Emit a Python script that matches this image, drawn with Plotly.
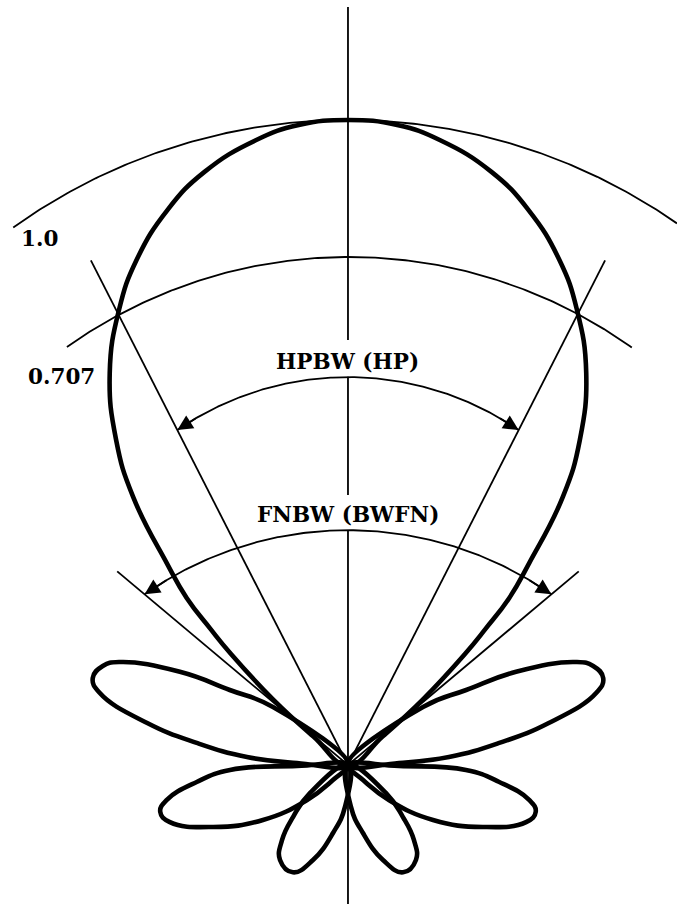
import numpy as np
import plotly.graph_objects as go

# ---- Radiation pattern (angle from boresight in degrees, normalized field magnitude) ----
# Main beam, one half: from the peak out to the first null
MAIN_DEG = [0.0, 4.4, 8.4, 13.6, 18.0, 22.7, 26.7, 31.3, 35.5, 38.7, 41.9, 44.0, 45.3, 46.5, 48.8, 50.5, 51.5]
MAIN_MAG = [1.0, 0.995, 0.979, 0.946, 0.905, 0.849, 0.790, 0.711, 0.619, 0.533, 0.421, 0.360, 0.300, 0.250, 0.154, 0.070, 0.0]

# First side lobe (outline from the origin, round the tip, back to the origin)
SIDE1_DEG = [52.3, 52.3, 57.6, 61.0, 65.7, 68.0, 71.2, 73.8, 78.2, 81.7, 85.5, 87.8, 89.5]
SIDE1_MAG = [0.0, 0.147, 0.217, 0.298, 0.388, 0.410, 0.418, 0.401, 0.318, 0.237, 0.157, 0.079, 0.0]

# Second side lobe
SIDE2_DEG = [90.5, 91.1, 92.4, 96.4, 100.9, 104.0, 107.8, 114.7, 122.9, 130.5, 135.0, 137.0]
SIDE2_MAG = [0.0, 0.079, 0.183, 0.236, 0.286, 0.300, 0.290, 0.230, 0.157, 0.084, 0.033, 0.0]

# Back lobe
BACK_DEG = [124.0, 126.4, 133.4, 138.7, 144.4, 152.8, 159.8, 167.6, 175.9, 178.0]
BACK_MAG = [0.0, 0.073, 0.117, 0.155, 0.181, 0.187, 0.157, 0.108, 0.065, 0.0]

# Reference levels and beamwidths
LEVEL_LABELS = ["1.0", "0.707"]
HPBW_HALF_DEG = 27.0
FNBW_HALF_DEG = 50.0
HPBW_LINE_LEN = 0.878
FNBW_LINE_LEN = 0.467
BEAM_LABELS = ["HPBW (HP)", "FNBW (BWFN)"]

INK = "#000000"
FONT = dict(family="DejaVu Serif", size=21.5, color=INK, weight="bold")


def to_xy(deg, mag):
    a = np.radians(np.asarray(deg, dtype=float))
    m = np.asarray(mag, dtype=float)
    return m * np.sin(a), m * np.cos(a)


def arc_points(cx, cy, r, phi0, phi1, n=200):
    p = np.radians(np.linspace(phi0, phi1, n))
    return cx + r * np.sin(p), cy + r * np.cos(p)


def line_arc_hit(half_deg, cy, r):
    """Distance along a beam line (from the origin) where it meets an arc centred on the axis."""
    c = np.cos(np.radians(half_deg))
    b = -2 * c * cy
    k = cy * cy - r * r
    return (-b + np.sqrt(b * b - 4 * k)) / 2


fig = go.Figure()

thin = dict(color=INK, width=1.8)
thick = dict(color=INK, width=4.6, shape="spline", smoothing=1.3)

# Axis of the pattern, broken where the beamwidth labels sit
HP_LABEL_Y = 0.626
FN_LABEL_Y = 0.3876
fig.add_trace(go.Scatter(
    x=[0, 0, None, 0, 0, None, 0, 0],
    y=[1.1752, HP_LABEL_Y + 0.033, None, HP_LABEL_Y - 0.024, FN_LABEL_Y + 0.031,
       None, FN_LABEL_Y - 0.024, -0.26],
    mode="lines", line=thin, hoverinfo="skip"))

# Level arcs
ax1, ay1 = arc_points(0.0, 0.1085, 0.8915, -35.6, 34.9)
fig.add_trace(go.Scatter(x=ax1, y=ay1, mode="lines", line=thin, hoverinfo="skip"))
ax2, ay2 = arc_points(0.0016, 0.0326, 0.755, -35.4, 35.5)
fig.add_trace(go.Scatter(x=ax2, y=ay2, mode="lines", line=thin, hoverinfo="skip"))

# Beam-edge lines
for half, length in [(HPBW_HALF_DEG, HPBW_LINE_LEN), (FNBW_HALF_DEG, FNBW_LINE_LEN)]:
    for s in (-1, 1):
        lx, ly = to_xy([0, s * half], [0, length])
        fig.add_trace(go.Scatter(x=[0, lx[1]], y=[0, ly[1]], mode="lines",
                                 line=thin, hoverinfo="skip"))

# Double-headed beamwidth arcs
annotations = []
for half, cy, r in [(HPBW_HALF_DEG, 0.1333, 0.468), (FNBW_HALF_DEG, -0.186, 0.550)]:
    t = line_arc_hit(half, cy, r)
    tx, ty = to_xy([half], [t])
    phi_tip = np.degrees(np.arcsin(tx[0] / r))
    bx, by = arc_points(0.0, cy, r, -phi_tip, phi_tip)
    fig.add_trace(go.Scatter(x=bx, y=by, mode="lines", line=thin, hoverinfo="skip"))
    for s in (-1, 1):
        tail_x, tail_y = arc_points(0.0, cy, r, s * (phi_tip - 4.5), s * (phi_tip - 4.5), n=1)
        annotations.append(dict(
            x=s * tx[0], y=ty[0], ax=tail_x[0], ay=tail_y[0],
            xref="x", yref="y", axref="x", ayref="y", text="",
            showarrow=True, arrowhead=2, arrowsize=1.7, arrowwidth=1.8,
            arrowcolor=INK, standoff=0))

# Main beam
full_deg = [-d for d in MAIN_DEG[::-1]] + MAIN_DEG[1:]
full_mag = MAIN_MAG[::-1] + MAIN_MAG[1:]
mx, my = to_xy(full_deg, full_mag)
fig.add_trace(go.Scatter(x=mx, y=my, mode="lines", line=thick, hoverinfo="skip"))

# Minor lobes, mirrored on both sides of the axis
for deg, mag in [(SIDE1_DEG, SIDE1_MAG), (SIDE2_DEG, SIDE2_MAG), (BACK_DEG, BACK_MAG)]:
    for s in (-1, 1):
        lx, ly = to_xy([s * d for d in deg], mag)
        fig.add_trace(go.Scatter(x=lx, y=ly, mode="lines", line=thick, hoverinfo="skip"))

# Text labels
annotations += [
    dict(x=-0.4775, y=0.817, text=LEVEL_LABELS[0], showarrow=False, font=FONT,
         xref="x", yref="y", xanchor="center", yanchor="middle"),
    dict(x=-0.4434, y=0.6016, text=LEVEL_LABELS[1], showarrow=False, font=FONT,
         xref="x", yref="y", xanchor="center", yanchor="middle"),
    dict(x=0.0, y=HP_LABEL_Y, text=BEAM_LABELS[0], showarrow=False, font=FONT,
         xref="x", yref="y", xanchor="center", yanchor="middle"),
    dict(x=0.0, y=FN_LABEL_Y, text=BEAM_LABELS[1], showarrow=False, font=FONT,
         xref="x", yref="y", xanchor="center", yanchor="middle"),
]

fig.update_layout(
    width=677, height=904,
    margin=dict(l=0, r=0, t=0, b=0),
    paper_bgcolor="white", plot_bgcolor="white",
    showlegend=False,
    xaxis=dict(range=[-0.5395, 0.5101], visible=False, fixedrange=True),
    yaxis=dict(range=[-0.2155, 1.1860], visible=False, fixedrange=True),
    annotations=annotations,
)

fig.write_html("out.html", config={"displayModeBar": False})
